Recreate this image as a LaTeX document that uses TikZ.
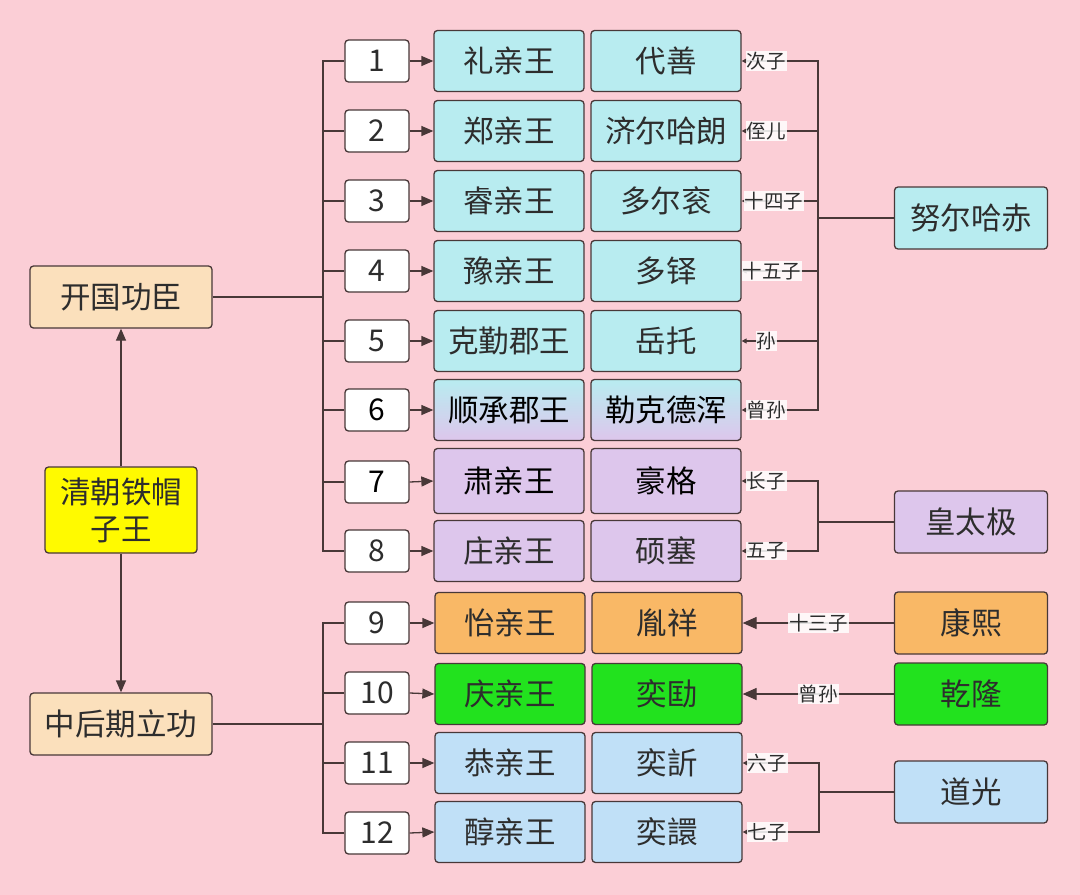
\documentclass[tikz,border=0pt]{standalone}
\usepackage{fontspec}
\setmainfont{Noto Sans CJK SC}
\usetikzlibrary{arrows.meta}
\definecolor{bg}{RGB}{251,206,214}
\definecolor{cyanb}{RGB}{184,236,240}
\definecolor{purb}{RGB}{221,198,236}
\definecolor{orgb}{RGB}{249,184,102}
\definecolor{grnb}{RGB}{34,226,30}
\definecolor{blub}{RGB}{192,224,247}
\definecolor{yelb}{RGB}{255,250,0}
\definecolor{tanb}{RGB}{251,224,188}
\definecolor{edge}{RGB}{72,56,56}
\definecolor{txt}{RGB}{45,45,45}
\begin{document}
\begin{tikzpicture}[x=1pt,y=-1pt,
  box/.style={draw=edge, line width=1.3pt, rounded corners=3.5pt, minimum width=150pt, minimum height=61pt, inner sep=0pt, text=txt, font=\fontsize{30.5}{32}\selectfont},
  numb/.style={box, fill=white, minimum width=64pt, minimum height=42pt, font=\fontsize{30}{32}\selectfont},
  anc/.style={box, minimum width=153pt, minimum height=62pt},
  conn/.style={draw=edge, line width=1.3pt},
  arr/.style={conn, -{Triangle[length=12pt,width=10pt]}},
  sarr/.style={conn, -{Triangle[length=5pt,width=5pt]}},
  barr/.style={conn, -{Triangle[length=14pt,width=12pt]}},
  lbl/.style={fill=white, fill opacity=0.85, text opacity=1, inner sep=1pt, text=txt, font=\fontsize{19.5}{20}\selectfont}
]
\fill[bg] (0,0) rectangle (1080,895);
\useasboundingbox (0,0) rectangle (1080,895);

% left column
\node[box, fill=tanb, minimum width=182pt, minimum height=62pt] (kg) at (121,297) {开国功臣};
\node[box, fill=yelb, minimum width=152pt, minimum height=86pt, align=center, font=\fontsize{30.5}{37}\selectfont] (qc) at (121,510) {清朝铁帽\\子王};
\node[box, fill=tanb, minimum width=182pt, minimum height=62pt] (zh) at (121,724) {中后期立功};
\draw[arr] (qc.north) -- (kg.south);
\draw[arr] (qc.south) -- (zh.north);

% number boxes
\node[numb] (k1) at (377,61) {1};
\node[numb] (k2) at (377,131) {2};
\node[numb] (k3) at (377,201) {3};
\node[numb] (k4) at (377,271) {4};
\node[numb] (k5) at (377,341) {5};
\node[numb, text=black] (k6) at (377,410) {6};
\node[numb, text=black] (k7) at (377,482) {7};
\node[numb] (k8) at (377,551) {8};
\node[numb] (k9) at (377,623) {9};
\node[numb] (k10) at (377,693) {10};
\node[numb] (k11) at (377,763) {11};
\node[numb] (k12) at (377,833) {12};

% titles
\node[box, fill=cyanb] (t1) at (509,61) {礼亲王};
\node[box, fill=cyanb] (t2) at (509,131) {郑亲王};
\node[box, fill=cyanb] (t3) at (509,201) {睿亲王};
\node[box, fill=cyanb] (t4) at (509,271) {豫亲王};
\node[box, fill=cyanb] (t5) at (509,341) {克勤郡王};
\node[box, top color=cyanb, bottom color=purb, text=black] (t6) at (509,410) {顺承郡王};
\node[box, fill=purb, text=black, minimum height=65pt] (t7) at (509,481) {肃亲王};
\node[box, fill=purb] (t8) at (509,551) {庄亲王};
\node[box, fill=orgb] (t9) at (510,623) {怡亲王};
\node[box, fill=grnb] (t10) at (510,694) {庆亲王};
\node[box, fill=blub] (t11) at (510,763) {恭亲王};
\node[box, fill=blub] (t12) at (510,832) {醇亲王};

% names
\node[box, fill=cyanb] (n1) at (666,61) {代善};
\node[box, fill=cyanb] (n2) at (666,131) {济尔哈朗};
\node[box, fill=cyanb] (n3) at (666,201) {多尔衮};
\node[box, fill=cyanb] (n4) at (666,271) {多铎};
\node[box, fill=cyanb] (n5) at (666,341) {岳托};
\node[box, top color=cyanb, bottom color=purb, text=black] (n6) at (666,410) {勒克德浑};
\node[box, fill=purb, text=black, minimum height=65pt] (n7) at (666,481) {豪格};
\node[box, fill=purb] (n8) at (666,551) {硕塞};
\node[box, fill=orgb] (n9) at (667,623) {胤祥};
\node[box, fill=grnb] (n10) at (667,694) {奕劻};
\node[box, fill=blub] (n11) at (667,763) {奕訢};
\node[box, fill=blub] (n12) at (667,832) {奕譞};

% ancestors
\node[anc, fill=cyanb] (nu) at (971,218) {努尔哈赤};
\node[anc, fill=purb] (ht) at (971,522) {皇太极};
\node[anc, fill=orgb] (kx) at (971,623) {康熙};
\node[anc, fill=grnb] (ql) at (971,694) {乾隆};
\node[anc, fill=blub] (dg) at (971,792) {道光};

% buses
\coordinate (busA) at (323,297);
\coordinate (busB) at (323,724);
\draw[conn] (kg.east) -- (busA);
\draw[conn] (zh.east) -- (busB);
\foreach \i in {1,...,8} {\draw[conn] (busA) |- (k\i.west);}
\foreach \i in {9,...,12} {\draw[conn] (busB) |- (k\i.west);}
\foreach \i in {1,...,12} {\draw[arr] (k\i.east) -- (t\i.west);}

% brackets
\coordinate (bN) at (818,218);
\coordinate (bH) at (818,522);
\coordinate (bD) at (819,792);
\draw[conn] (nu.west) -- (bN);
\draw[conn] (ht.west) -- (bH);
\draw[conn] (dg.west) -- (bD);
\foreach \i in {1,...,6} {\draw[sarr] (bN) |- (n\i.east);}
\foreach \i in {7,8} {\draw[sarr] (bH) |- (n\i.east);}
\foreach \i in {11,12} {\draw[sarr] (bD) |- (n\i.east);}

\node[lbl, anchor=west] at ([xshift=4pt]n1.east) {次子};
\node[lbl, anchor=west] at ([xshift=4pt]n2.east) {侄儿};
\node[lbl, anchor=west] at ([xshift=2pt]n3.east) {十四子};
\node[lbl, anchor=west] at ([xshift=0pt]n4.east) {十五子};
\node[lbl, anchor=west] at ([xshift=14pt]n5.east) {孙};
\node[lbl, anchor=west] at ([xshift=4pt]n6.east) {曾孙};
\node[lbl, anchor=west] at ([xshift=4pt]n7.east) {长子};
\node[lbl, anchor=west] at ([xshift=4pt]n8.east) {五子};
\node[lbl, anchor=west] at ([xshift=4pt]n11.east) {六子};
\node[lbl, anchor=west] at ([xshift=4pt]n12.east) {七子};

\draw[barr] (kx.west) -- node[lbl] {十三子} (n9.east);
\draw[barr] (ql.west) -- node[lbl] {曾孙} (n10.east);
\end{tikzpicture}
\end{document}
